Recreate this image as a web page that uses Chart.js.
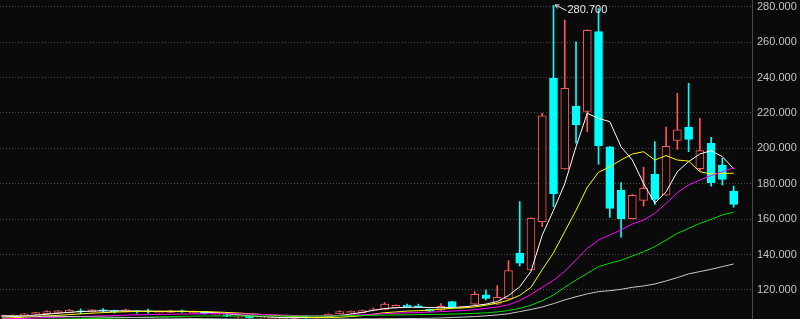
<!DOCTYPE html>
<html>
<head>
<meta charset="utf-8">
<title>K线图</title>
<script src="https://cdn.jsdelivr.net/npm/chart.js@4.4.1/dist/chart.umd.min.js"></script>
<style>
  html, body { margin: 0; padding: 0; background: #0a0a0a; }
  #wrap { width: 800px; height: 319px; }
</style>
</head>
<body>
<div id="wrap"><canvas id="kChart" width="800" height="319"></canvas></div>
<script>
// daily candles (oldest first)
const opens = [105.2, 105.3, 105.8, 106.3, 106.6, 107.0, 107.2, 108.2, 107.6, 108.8,
  108.4, 107.7, 108.2, 108.2, 107.2, 107.4, 108.3, 107.2, 107.8, 105.8,
  106.0, 104.6, 105.2, 104.2, 103.6, 103.4, 103.9, 105.0, 104.3, 105.3,
  106.5, 107.0, 107.2, 108.4, 109.0, 110.0, 111.4, 111.0, 109.1, 108.6,
  113.4, 109.9, 112.0, 117.2, 112.0, 115.0, 140.8, 131.3, 158.6, 239.7,
  188.4, 223.9, 220.9, 265.9, 200.8, 176.5, 160.3, 170.6, 185.5, 173.6,
  204.5, 212.0, 188.5, 202.8, 190.6, 175.9];
const highs = [105.8, 106.0, 106.7, 107.4, 108.3, 108.4, 109.1, 109.3, 109.0, 109.5,
  108.6, 109.2, 108.4, 109.2, 108.2, 108.6, 108.6, 108.1, 108.0, 106.7,
  106.3, 105.6, 105.5, 105.2, 104.7, 104.4, 105.1, 105.3, 105.4, 106.6,
  108.3, 108.2, 108.6, 109.9, 112.9, 111.6, 112.0, 112.0, 109.3, 112.3,
  113.6, 110.8, 119.1, 120.0, 122.5, 136.6, 169.9, 160.7, 219.8, 280.7,
  272.5, 260.2, 266.9, 279.0, 201.0, 180.6, 174.0, 189.3, 203.8, 212.0,
  231.1, 236.7, 216.9, 206.2, 194.4, 178.7];
const lows = [105.0, 105.1, 105.6, 106.1, 106.5, 106.9, 107.0, 106.6, 107.5, 107.5,
  107.0, 107.6, 106.9, 106.8, 107.0, 107.2, 107.3, 107.0, 106.3, 105.6,
  104.9, 104.3, 104.0, 103.9, 103.2, 103.0, 103.6, 103.9, 104.0, 105.1,
  106.3, 106.8, 107.0, 108.2, 108.8, 109.8, 110.4, 110.0, 107.8, 108.4,
  110.2, 109.8, 111.8, 114.4, 111.8, 114.8, 133.6, 131.1, 155.8, 167.1,
  188.2, 202.9, 209.4, 191.0, 161.0, 149.8, 160.1, 167.4, 168.4, 173.4,
  199.4, 198.1, 187.4, 178.7, 179.3, 166.7];
const closes = [105.6, 105.7, 106.5, 107.2, 107.8, 108.2, 108.6, 107.6, 108.8, 108.2,
  107.8, 108.8, 107.6, 107.9, 107.8, 108.3, 107.6, 107.9, 106.6, 106.4,
  105.2, 105.3, 104.4, 104.9, 104.4, 104.0, 104.8, 104.2, 105.0, 106.4,
  107.8, 108.0, 108.4, 109.0, 112.0, 111.4, 110.6, 110.2, 108.0, 110.8,
  110.6, 110.6, 117.6, 115.3, 115.9, 131.0, 135.1, 160.5, 218.3, 174.2,
  233.9, 213.2, 266.7, 201.5, 166.1, 160.3, 173.5, 177.4, 171.2, 201.1,
  210.4, 205.1, 198.7, 180.6, 182.5, 168.4];

// moving average lines as drawn
const ma5 = [104.8, 105.0, 105.3, 105.8, 106.3, 106.9, 107.4, 107.8, 108.1, 108.2,
  108.2, 108.2, 108.1, 108.0, 107.9, 107.9, 107.9, 107.8, 107.5, 107.2,
  106.6, 106.0, 105.4, 105.0, 104.7, 104.4, 104.4, 104.4, 104.5, 104.9,
  105.6, 106.4, 107.3, 108.5, 109.5, 110.0, 110.2, 110.3, 110.1, 110.0,
  110.2, 110.4, 111.2, 112.0, 113.5, 116.8, 121.8, 130.5, 151.0, 165.0,
  180.0, 200.9, 219.8, 216.9, 215.1, 200.9, 193.4, 180.2, 169.0, 175.5,
  186.8, 192.5, 196.8, 198.7, 195.3, 188.5];
const ma10 = [104.0, 104.3, 104.6, 104.9, 105.3, 105.7, 106.1, 106.5, 106.9, 107.2,
  107.5, 107.7, 107.9, 108.0, 108.0, 108.0, 108.0, 107.9, 107.8, 107.6,
  107.3, 107.0, 106.6, 106.2, 105.8, 105.4, 105.0, 104.7, 104.5, 104.5,
  104.6, 105.0, 105.5, 106.3, 107.2, 107.6, 108.1, 108.3, 108.6, 109.2,
  109.6, 109.9, 110.4, 111.4, 112.6, 114.2, 117.0, 121.5, 131.5, 141.0,
  153.0, 165.0, 178.0, 186.5, 189.6, 193.4, 196.8, 198.1, 193.4, 195.9,
  193.4, 192.8, 186.8, 185.5, 185.9, 185.9];
const ma20 = [103.6, 103.8, 104.0, 104.2, 104.4, 104.6, 104.8, 105.0, 105.2, 105.4,
  105.6, 105.8, 106.0, 106.1, 106.2, 106.3, 106.4, 106.5, 106.6, 106.6,
  106.6, 106.5, 106.4, 106.2, 106.0, 105.8, 105.6, 105.5, 105.5, 105.5,
  105.6, 105.8, 106.0, 106.3, 106.6, 106.9, 107.1, 107.3, 107.5, 107.8,
  108.1, 108.4, 108.9, 109.6, 110.4, 111.6, 114.0, 117.5, 121.5, 125.5,
  130.5, 137.0, 143.5, 148.2, 151.1, 153.9, 157.3, 159.5, 163.3, 168.9,
  175.0, 179.3, 182.1, 184.6, 186.8, 189.1];
const ma30 = [102.8, 103.0, 103.2, 103.4, 103.5, 103.6, 103.7, 103.8, 103.9, 104.0,
  104.1, 104.3, 104.5, 104.7, 104.9, 105.0, 105.1, 105.2, 105.3, 105.3,
  105.3, 105.3, 105.3, 105.3, 105.3, 105.3, 105.3, 105.3, 105.3, 105.3,
  105.4, 105.5, 105.6, 105.7, 105.8, 105.9, 106.0, 106.1, 106.2, 106.3,
  106.4, 106.6, 106.8, 107.1, 107.6, 108.4, 109.6, 111.4, 114.0, 117.2,
  121.5, 125.6, 129.4, 133.2, 135.1, 136.8, 139.2, 141.6, 144.5, 148.2,
  152.0, 154.8, 157.6, 159.9, 162.4, 163.9];
const ma60 = [105.6, 105.5, 105.4, 105.3, 105.2, 105.1, 105.0, 104.9, 104.8, 104.7,
  104.6, 104.5, 104.4, 104.3, 104.2, 104.1, 104.0, 103.9, 103.8, 103.7,
  103.6, 103.5, 103.5, 103.4, 103.4, 103.4, 103.4, 103.4, 103.5, 103.5,
  103.6, 103.6, 103.7, 103.7, 103.8, 103.8, 103.9, 103.9, 104.0, 104.2,
  104.5, 104.7, 105.0, 105.4, 105.9, 106.6, 107.8, 109.0, 110.4, 112.3,
  114.4, 116.2, 117.8, 119.1, 119.6, 120.4, 121.5, 122.3, 123.4, 125.1,
  127.0, 129.1, 130.4, 131.7, 133.2, 134.7];

const yTicks = [120, 140, 160, 180, 200, 220, 240, 260, 280];

const upColor = '#ff5656';
const downColor = '#00ffff';
const bgColor = '#0a0a0a';

const idx = opens.map((_, i) => i);
const isUp = idx.map(i => closes[i] >= opens[i]);
const candleColors = isUp.map(u => u ? upColor : downColor);

function lineSet(values, color) {
  return {
    type: 'line',
    data: idx.map(i => ({ x: i, y: values[i] })),
    borderColor: color,
    borderWidth: 1,
    pointRadius: 0,
    tension: 0,
    order: 0
  };
}

// little arrow + value at the highest high
const peakLabel = {
  id: 'peakLabel',
  afterDatasetsDraw(chart) {
    const ctx = chart.ctx;
    const top = Math.max(...highs);
    const i = highs.indexOf(top);
    const x = chart.scales.x.getPixelForValue(i);
    const y = chart.scales.y.getPixelForValue(top);
    ctx.save();
    ctx.strokeStyle = '#e8e8e8';
    ctx.lineWidth = 1;
    ctx.beginPath();
    ctx.moveTo(x + 1.5, y - 0.5);
    ctx.lineTo(x + 13, y + 5);
    ctx.moveTo(x + 1.5, y - 0.5);
    ctx.lineTo(x + 6, y - 0.5);
    ctx.moveTo(x + 1.5, y - 0.5);
    ctx.lineTo(x + 4, y + 3);
    ctx.stroke();
    ctx.fillStyle = '#e8e8e8';
    ctx.font = '11px "Liberation Sans"';
    ctx.textBaseline = 'middle';
    ctx.fillText(top.toFixed(3), x + 14, y + 5);
    ctx.restore();
  }
};

const ctx = document.getElementById('kChart').getContext('2d');
const kChart = new Chart(ctx, {
  type: 'bar',
  data: {
    datasets: [
      lineSet(ma60, '#c8c8c8'),
      lineSet(ma30, '#00e000'),
      lineSet(ma20, '#ff00ff'),
      lineSet(ma10, '#ffff00'),
      lineSet(ma5, '#ffffff'),
      {
        // candle bodies
        data: idx.map(i => ({ x: i, y: [opens[i], closes[i]] })),
        backgroundColor: isUp.map(u => u ? bgColor : downColor),
        borderColor: candleColors,
        borderWidth: 1,
        borderSkipped: false,
        barThickness: 8,
        grouped: false,
        order: 1
      },
      {
        // wicks
        data: idx.map(i => ({ x: i, y: [lows[i], highs[i]] })),
        backgroundColor: candleColors,
        borderWidth: 0,
        barThickness: 1,
        grouped: false,
        order: 2
      }
    ]
  },
  options: {
    responsive: false,
    animation: false,
    layout: { padding: 0 },
    plugins: {
      legend: { display: false },
      tooltip: { enabled: false }
    },
    scales: {
      x: {
        type: 'linear',
        display: false,
        offset: false,
        min: -0.16,
        max: 66.63
      },
      y: {
        type: 'linear',
        position: 'right',
        min: 103.62,
        max: 283.78,
        afterBuildTicks: s => { s.ticks = yTicks.map(v => ({ value: v })); },
        afterFit: s => { s.width = 48; s.paddingTop = 0; s.paddingBottom = 0; },
        grid: { color: '#4c4c4c', lineWidth: 1, drawTicks: false },
        border: { display: true, color: '#4a4a4a', width: 1, dash: [1, 2] },
        ticks: {
          color: '#c4c4c4',
          padding: 5,
          font: { family: 'Liberation Sans', size: 11 },
          callback: v => v.toFixed(3)
        }
      }
    }
  },
  plugins: [peakLabel]
});
</script>
</body>
</html>
